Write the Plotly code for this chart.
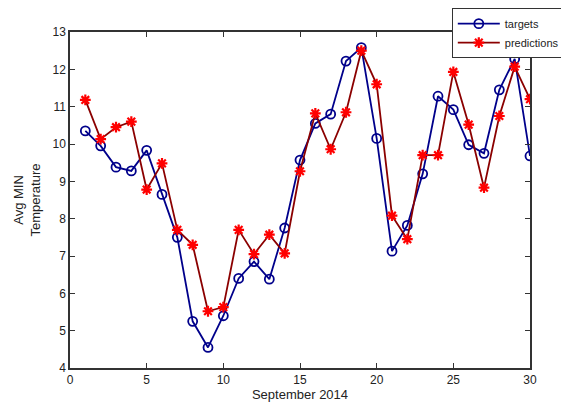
import plotly.graph_objects as go

days = list(range(1, 31))
targets = [10.35, 9.95, 9.38, 9.28, 9.83, 8.65, 7.5, 5.25, 4.55, 5.4,
           6.4, 6.85, 6.38, 7.75, 9.57, 10.55, 10.8, 12.22, 12.58, 10.15,
           7.13, 7.82, 9.2, 11.28, 10.92, 9.98, 9.75, 11.45, 12.28, 9.68]
predictions = [11.18, 10.13, 10.45, 10.6, 8.78, 9.48, 7.7, 7.3, 5.52, 5.63,
               7.7, 7.05, 7.57, 7.07, 9.27, 10.82, 9.86, 10.85, 12.5, 11.6,
               8.08, 7.45, 9.7, 9.7, 11.93, 10.52, 8.83, 10.75, 12.07, 11.2]
x_ticks = [0, 5, 10, 15, 20, 25, 30]
y_ticks = [4, 5, 6, 7, 8, 9, 10, 11, 12, 13]

fig = go.Figure()
fig.add_trace(go.Scatter(
    x=days, y=targets, name="targets", mode="lines+markers",
    line=dict(color="#00008B", width=1.8),
    marker=dict(symbol="circle-open", size=9, color="#00008B", line=dict(width=1.8)),
))
fig.add_trace(go.Scatter(
    x=days, y=predictions, name="predictions", mode="lines+markers",
    line=dict(color="#8B0000", width=1.8),
    marker=dict(symbol="asterisk-open", size=9, color="#FF0000", line=dict(width=2.2, color="#FF0000")),
))

axis_common = dict(
    showline=True, linecolor="#333333", linewidth=1.5, mirror="ticks",
    ticks="inside", ticklen=5, tickcolor="#333333", showgrid=False, zeroline=False,
    automargin=False,
    tickfont=dict(family="Liberation Sans, Arial", size=12, color="#222222"),
)
fig.update_xaxes(range=[0, 30], tickvals=x_ticks, **axis_common,
                 title=dict(text="September 2014", font=dict(family="Liberation Sans, Arial", size=13, color="#222222"), standoff=3))
fig.update_yaxes(range=[4, 13], tickvals=y_ticks, **axis_common,
                 title=dict(text="Avg MIN<br>Temperature", font=dict(family="Liberation Sans, Arial", size=13, color="#222222"), standoff=9))

fig.update_layout(
    width=561, height=400,
    margin=dict(l=62, r=39, t=24, b=40, autoexpand=False),
    plot_bgcolor="white", paper_bgcolor="white",
    legend=dict(x=0.83, y=1.071, xanchor="left", yanchor="top",
                bgcolor="white", bordercolor="#333333", borderwidth=1,
                font=dict(family="Liberation Sans, Arial", size=11, color="#222222"),
                tracegroupgap=0, itemwidth=42),
    showlegend=True,
)

fig.write_html("out.html")
